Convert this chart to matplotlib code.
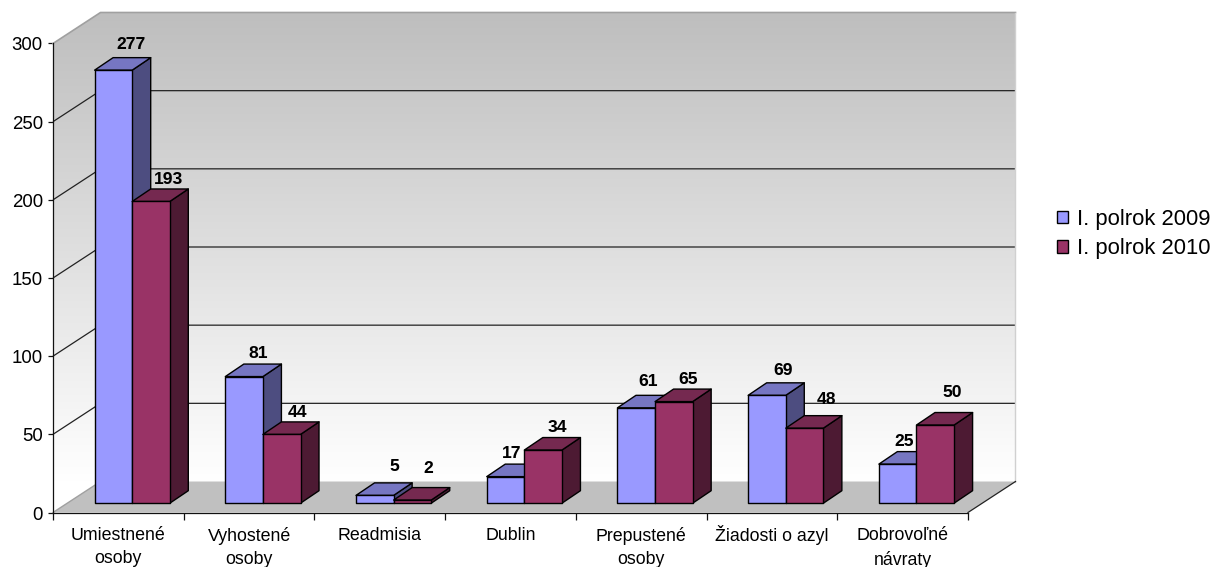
import numpy as np
import matplotlib
matplotlib.use("Agg")
import matplotlib.pyplot as plt
from matplotlib.patches import Polygon, Rectangle
from matplotlib.transforms import ScaledTranslation

plt.rcParams['font.family'] = ['Liberation Sans', 'DejaVu Sans']
plt.rcParams['text.hinting'] = 'no_autohint'

categories = ["Umiestnené\nosoby", "Vyhostené\nosoby", "Readmisia", "Dublin",
              "Prepustené\nosoby", "Žiadosti o azyl", "Dobrovoľné\nnávraty"]
series_2009 = [277, 81, 5, 17, 61, 69, 25]
series_2010 = [193, 44, 2, 34, 65, 48, 50]
series_names = ["I. polrok 2009", "I. polrok 2010"]
y_ticks = [0, 50, 100, 150, 200, 250, 300]

# label offsets from the top-centre of each bar's front face, in pixels
label_off_2009 = [(18, 26), (14, 23), (19, 28.5), (6, 23), (11.5, 26), (16, 25), (6, 23)]
label_off_2010 = [(17.5, 22), (16, 21.5), (16, 32), (14.5, 23), (14, 22), (21.5, 29), (16.5, 33)]

W, H = 1214, 567
AX_L, AX_R, AX_T, AX_B = 53, 968, 43.5, 512.5
fig = plt.figure(figsize=(W / 100, H / 100), dpi=100, facecolor='white')
ax = fig.add_axes([AX_L / W, 1 - AX_B / H, (AX_R - AX_L) / W, (AX_B - AX_T) / H])
ax.patch.set_visible(False)
ax.set_xlim(0, 7)
ax.set_ylim(0, 300)

px_x = 7 / (AX_R - AX_L)      # category units per pixel
px_y = 300 / (AX_B - AX_T)    # value units per pixel

wall_dx, wall_dy = 47.5 * px_x, 31 * px_y
# wall + side wall gradient
grad = np.linspace(0, 1, 256).reshape(-1, 1)
cmap = matplotlib.colors.LinearSegmentedColormap.from_list('wall', ['#BEBEBE', '#FFFFFF'])
outline = [(0, 0), (0, 300), (wall_dx, 300 + wall_dy), (7 + wall_dx, 300 + wall_dy),
           (7 + wall_dx, wall_dy), (wall_dx, wall_dy)]
poly = Polygon(outline, closed=True, fc='none', ec='none', transform=ax.transData)
ax.add_patch(poly)
im = ax.imshow(grad, extent=(0, 7 + wall_dx, wall_dy, 300 + wall_dy), aspect='auto', cmap=cmap,
               origin='upper', zorder=1)
im.set_clip_box(fig.bbox)
im.set_clip_path(poly)
ax.set_xlim(0, 7)
ax.set_ylim(0, 300)

# floor
ax.add_patch(Polygon([(0, 0), (wall_dx, wall_dy), (7 + wall_dx, wall_dy), (7, 0)], closed=True,
                     fc='#C0C0C0', ec='none', zorder=2, clip_on=False))
# gridlines
for v in y_ticks[1:-1]:
    ax.plot([0, wall_dx, 7 + wall_dx], [v, v + wall_dy, v + wall_dy], color='#222222', lw=0.9,
            zorder=3, clip_on=False, solid_capstyle='butt')
# frame edges of the walls
ax.plot([0, wall_dx, 7 + wall_dx], [300, 300 + wall_dy, 300 + wall_dy],
        color='#A0A0A0', lw=1.2, zorder=3, clip_on=False)
ax.plot([7 + wall_dx, 7 + wall_dx], [300 + wall_dy, wall_dy], color='#D0D0D0', lw=1.0, zorder=3, clip_on=False)
ax.plot([0, wall_dx], [0, wall_dy], color='#A0A0A0', lw=1.0, zorder=3, clip_on=False)
ax.plot([7, 7 + wall_dx], [0, wall_dy], color='#222222', lw=0.9, zorder=3, clip_on=False)


def bar3d(x0, width, val, colors, z):
    base_dx, base_dy = 14 * px_x, 9.3 * px_y
    ddx, ddy = 18.5 * px_x, 12.5 * px_y
    l, r = x0 + base_dx, x0 + width + base_dx
    b, t = base_dy, val + base_dy
    front, top, side = colors
    kw = dict(closed=True, ec='black', lw=1.0, zorder=z, clip_on=False, joinstyle='round')
    ax.add_patch(Polygon([(r, b), (r + ddx, b + ddy), (r + ddx, t + ddy), (r, t)], fc=side, **kw))
    ax.add_patch(Polygon([(l, t), (r, t), (r + ddx, t + ddy), (l + ddx, t + ddy)], fc=top, **kw))
    ax.add_patch(Polygon([(l, b), (r, b), (r, t), (l, t)], fc=front, **kw))
    return (l + r) / 2, t


colors_2009 = ('#9999FF', '#7676C2', '#4D4D80')
colors_2010 = ('#993366', '#752950', '#4D1A33')
bar_w = 37.6 * px_x
gap = 27.6 * px_x

for i in range(len(categories)):
    for j, (vals, cols, offs) in enumerate([(series_2009, colors_2009, label_off_2009),
                                            (series_2010, colors_2010, label_off_2010)]):
        cx, top = bar3d(i + gap + j * bar_w, bar_w, vals[i], cols, 5 + i * 2 + j)
        ox, oy = offs[i]
        ax.annotate(str(vals[i]), xy=(cx, top), xytext=(ox * 0.72, oy * 0.72), textcoords='offset points',
                    ha='center', va='center', fontsize=12.7, fontweight='bold', color='black',
                    annotation_clip=False, zorder=40)

# axes
for s in ('top', 'right'):
    ax.spines[s].set_visible(False)
for s in ('left', 'bottom'):
    ax.spines[s].set_color('#111111')
    ax.spines[s].set_linewidth(0.9)
    ax.spines[s].set_zorder(4)
ax.set_yticks(y_ticks)
ax.tick_params(axis='y', length=3.6, width=0.9, labelsize=13.4, pad=3.8, color='#111111')
ax.set_xticks(np.arange(0, 8))
ax.set_xticklabels([])
ax.tick_params(axis='x', length=5, width=0.9, color='#111111')
ax.set_xticks(np.arange(7) + 0.5, minor=True)
ax.set_xticklabels(categories, minor=True, fontsize=12.8, linespacing=1.46, va='top', ha='center')
ax.tick_params(axis='x', which='minor', length=0, pad=10.5)
lift = ax.get_xticklabels(minor=True)[5]
lift.set_transform(lift.get_transform() + ScaledTranslation(0, 2 / 100, fig.dpi_scale_trans))

handles = [Rectangle((0, 0), 1, 1, fc=c[0], ec='black', lw=1.0) for c in (colors_2009, colors_2010)]
fig.legend(handles, series_names, loc='upper left', bbox_to_anchor=(1048 / W, 1 - 200 / H),
           frameon=False, fontsize=15.8, handlelength=0.53, handleheight=0.53, handletextpad=0.38,
           labelspacing=0.38, borderpad=0.4, borderaxespad=0)

fig.savefig('out.png', dpi=100, facecolor='white')
